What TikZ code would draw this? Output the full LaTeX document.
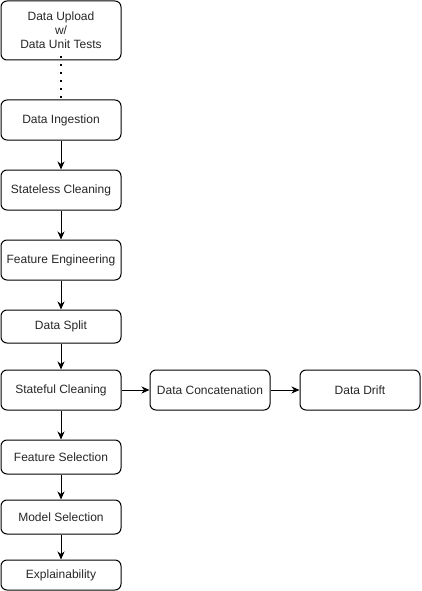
\documentclass[tikz,border=0pt]{standalone}
\usepackage{fontspec}
\setmainfont{Liberation Sans}
\usetikzlibrary{arrows.meta}
\begin{document}
\begin{tikzpicture}[x=1pt,y=-1pt,
  box/.style={draw=black,line width=1pt,rounded corners=6pt,minimum width=120pt,inner sep=0pt,align=center,font=\fontsize{12}{14}\selectfont,text=black!85},
  arr/.style={-{Stealth[length=8pt,width=7pt,inset=2.5pt]},line width=1pt},
  dots/.style={line width=1.5pt,dash pattern=on 1.5pt off 6.5pt}
]
\useasboundingbox (0,0) rectangle (421,591);
\node[box,minimum height=59pt] (up) at (61,30.5) {Data Upload\\w/\\Data Unit Tests};
\node[box,minimum height=40pt] (ing) at (61,120) {Data Ingestion};
\node[box,minimum height=40pt] (sl) at (61,190) {Stateless Cleaning};
\node[box,minimum height=40pt] (fe) at (61,260) {Feature Engineering};
\node[box,minimum height=33pt] (sp) at (61,326.5) {Data Split};
\node[box,minimum height=40pt] (sf) at (61,390) {Stateful Cleaning};
\node[box,minimum height=34pt] (fs) at (61,457) {Feature Selection};
\node[box,minimum height=34pt] (ms) at (61,517) {Model Selection};
\node[box,minimum height=30pt] (ex) at (61,575) {Explainability};
\node[box,minimum height=40pt] (dc) at (210,390) {Data Concatenation};
\node[box,minimum height=40pt] (dd) at (360,390) {Data Drift};
\draw[dots] ([yshift=4pt]up.south) -- (ing.north);
\draw[arr] (ing) -- (sl);
\draw[arr] (sl) -- (fe);
\draw[arr] (fe) -- (sp);
\draw[arr] (sp) -- (sf);
\draw[arr] (sf) -- (fs);
\draw[arr] (fs) -- (ms);
\draw[arr] (ms) -- (ex);
\draw[arr] (sf) -- (dc);
\draw[arr] (dc) -- (dd);
\end{tikzpicture}
\end{document}
